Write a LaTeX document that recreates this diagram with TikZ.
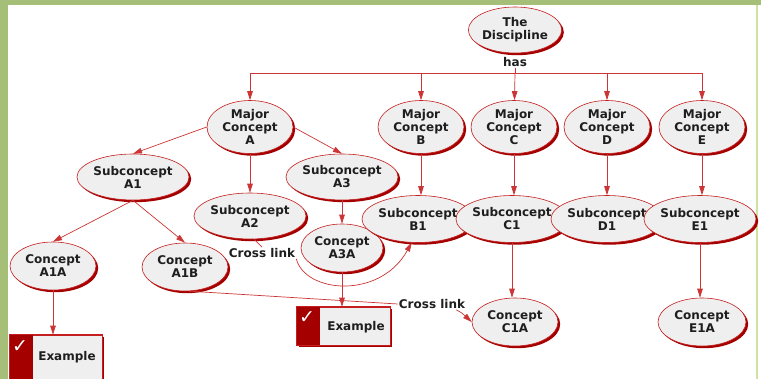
\documentclass[tikz,border=0pt]{standalone}
\usepackage{fontspec}
\setmainfont{DejaVu Sans}
\usetikzlibrary{shapes.geometric,arrows.meta,shadows}
\definecolor{edgered}{HTML}{CC3535}
\definecolor{rimred}{HTML}{C41E1E}
\definecolor{shadred}{HTML}{A50000}
\definecolor{nodefill}{HTML}{EFEFEF}
\definecolor{greenbg}{HTML}{A6BF78}
\definecolor{greenline}{HTML}{CFE2A0}
\definecolor{txt}{HTML}{1E1E1E}
\begin{document}
\begin{tikzpicture}[x=1pt,y=-1pt,
  bubble/.style={ellipse, draw=rimred, line width=0.6pt, fill=nodefill, inner sep=0pt,
    align=center, text=txt, font=\fontsize{12}{13}\selectfont\bfseries,
    drop shadow={shadow xshift=2.2pt, shadow yshift=-2.2pt, fill=shadred, opacity=1}},
  major/.style={bubble, minimum width=86pt, minimum height=53pt},
  sub/.style={bubble, minimum width=106pt, minimum height=47pt},
  conc/.style={bubble, minimum width=86pt, minimum height=48pt},
  exbox/.style={rectangle, draw=rimred, line width=0.6pt, fill=nodefill, inner sep=0pt,
    drop shadow={shadow xshift=2.2pt, shadow yshift=-2.2pt, fill=shadred, opacity=1}},
  lbl/.style={inner sep=1pt, text=txt, font=\fontsize{12}{13}\selectfont\bfseries},
  checkmark/.style={inner sep=0pt, text=white, font=\fontsize{19}{19}\selectfont\bfseries},
  arr/.style={draw=edgered, line width=0.7pt, -{Triangle[width=5.5pt,length=9pt]}},
  link/.style={draw=edgered, line width=0.7pt}]
\useasboundingbox (0,0) rectangle (761,379);
% background
\fill[greenbg] (0,0) rectangle (761,379);
\fill[white] (8,5) rectangle (761,379);
\fill[greenline] (756,5) rectangle (758,379);

% nodes
\node[bubble, minimum width=92pt, minimum height=46pt] (disc) at (515,30) {The\\Discipline};
\node[lbl] (has) at (515,62) {has};
\coordinate (hub) at (515,73);

\node[major] (majA) at (250,127) {Major\\Concept\\A};
\node[major] (majB) at (421,127) {Major\\Concept\\B};
\node[major] (majC) at (514,127) {Major\\Concept\\C};
\node[major] (majD) at (607,127) {Major\\Concept\\D};
\node[major] (majE) at (702,127) {Major\\Concept\\E};

\node[sub, minimum width=110pt, minimum height=46pt] (subA1) at (133,177) {Subconcept\\A1};
\node[sub, minimum width=108pt, minimum height=46pt] (subA3) at (342,177) {Subconcept\\A3};
\node[sub, minimum width=110pt, minimum height=46pt] (subA2) at (250,216) {Subconcept\\A2};
\node[conc, minimum width=82pt] (conA3A) at (342,248) {Concept\\A3A};

\node[sub] (subB1) at (418,219) {Subconcept\\B1};
\node[sub] (subC1) at (512,219) {Subconcept\\C1};
\node[sub] (subD1) at (607,219) {Subconcept\\D1};
\node[sub] (subE1) at (700,219) {Subconcept\\E1};

\node[conc] (conA1A) at (53,266) {Concept\\A1A};
\node[conc] (conA1B) at (185,267) {Concept\\A1B};
\node[conc] (conC1A) at (515,322) {Concept\\C1A};
\node[conc, minimum width=88pt] (conE1A) at (702,322) {Concept\\E1A};

% example boxes
\node[exbox, minimum width=92pt, minimum height=46pt] (ex1) at (56,358) {};
\fill[shadred] (ex1.north west) rectangle ([xshift=23pt]ex1.south west);
\draw[rimred, line width=0.6pt] (ex1.north west) rectangle (ex1.south east);
\node[checkmark] (chk1) at (20,347) {✓};
\node[lbl] (ex1t) at (67,357) {Example};

\node[exbox, minimum width=93pt, minimum height=38pt] (ex2) at (343.5,326) {};
\fill[shadred] (ex2.north west) rectangle ([xshift=23pt]ex2.south west);
\draw[rimred, line width=0.6pt] (ex2.north west) rectangle (ex2.south east);
\node[checkmark] (chk2) at (307,318) {✓};
\node[lbl] (ex2t) at (356,327) {Example};

% connectors
\draw[link] (has) -- (hub);
\draw[arr] (hub) -| (majA);
\draw[arr] (hub) -| (majB);
\draw[arr] (hub) -- (majC);
\draw[arr] (hub) -| (majD);
\draw[arr] (hub) -| (majE);

\draw[arr] (majA.west) -- (subA1.north);
\draw[arr] (majA.east) -- (subA3.north);
\draw[arr] (majA) -- (subA2);
\draw[arr] (subA1.south) -- (conA1A.north);
\draw[arr] (subA1.south) -- (conA1B.north);
\draw[arr] (subA3) -- (conA3A);
\draw[arr] (conA1A.south) -- (conA1A.south |- ex1.north);
\draw[arr] (conA3A.south) -- (conA3A.south |- ex2.north);

\draw[arr] (majB.south) -- (majB.south |- subB1.north);
\draw[arr] (majC.south) -- (majC.south |- subC1.north);
\draw[arr] (majD.south) -- (majD.south |- subD1.north);
\draw[arr] (majE.south) -- (majE.south |- subE1.north);
\draw[arr] (subC1.south) -- (subC1.south |- conC1A.north);
\draw[arr] (subE1.south) -- (subE1.south |- conE1A.north);

% cross link 1
\node[lbl] (cl1) at (262,253) {Cross link};
\draw[link] (subA2.-80) -- (cl1.north);
\draw[arr] (cl1.south east) .. controls (305,293) and (380,300) .. (subB1.255);

% cross link 2
\node[lbl] (cl2) at (432,304) {Cross link};
\draw[link] (conA1B.-80) -- (cl2.west);
\draw[arr] ([xshift=-10pt]cl2.south east) .. controls (462,313) .. (conC1A.west);
\end{tikzpicture}
\end{document}
